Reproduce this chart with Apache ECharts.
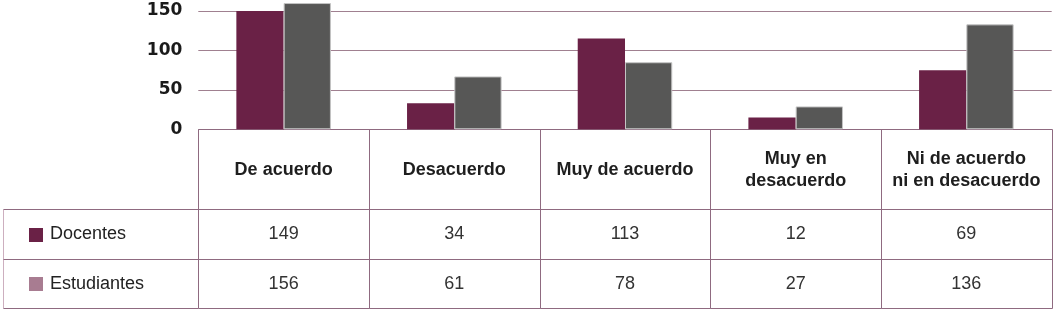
<!DOCTYPE html>
<html><head><meta charset="utf-8">
<script src="https://cdn.jsdelivr.net/npm/echarts@6.0.0/dist/echarts.min.js"></script>
<style>html,body{margin:0;padding:0;background:#fff}#c{width:1053px;height:310px}</style>
</head><body><div id="c"></div>
<script>
// ---- data ----
const categories = ['De acuerdo', 'Desacuerdo', 'Muy de acuerdo', 'Muy en\ndesacuerdo', 'Ni de acuerdo\nni en desacuerdo'];
const seriesNames = ['Docentes', 'Estudiantes'];
// bar heights as drawn in the chart
const docentesBars = [150, 33, 115, 15, 75];
const estudiantesBars = [160, 67, 85, 29, 133];
// values printed in the data table
const docentesTable = [149, 34, 113, 12, 69];
const estudiantesTable = [156, 61, 78, 27, 136];
const yTickLabels = ['0', '50', '100', '150', '200'];

// ---- style / layout ----
const C_DOC = '#6A2146', C_EST = '#575756', C_EST_KEY = '#A87C91';
const C_LINE = '#8F6A80', C_LINE_LIGHT = '#CDAFBF', C_GRID = '#A08090';
const FONT = '"Liberation Sans", Arial, sans-serif';
const rowEdges = [0, 80, 130, 179]; // table row boundaries (px, inside table grid)
const tableTop = 129.3, tableLeftX = 3;

const chart = echarts.init(document.getElementById('c'), null, {renderer: 'canvas'});
const px = (v) => Math.round(v) + 0.5;

function renderCol(params, api) {
  const i = api.value(0);
  const c = api.coord([i, 0]);
  const w = api.size([1, 0])[0];
  const x0 = px(c[0] - w / 2), x1 = px(c[0] + w / 2);
  const ys = rowEdges.map(v => px(api.coord([i, v])[1]));
  const ln = (x1_, y1_, x2_, y2_, col) => ({type: 'line', shape: {x1: x1_, y1: y1_, x2: x2_, y2: y2_}, style: {stroke: col || C_LINE, lineWidth: 1}});
  const txt = (s, y, bold) => ({type: 'text', style: {text: s, x: c[0], y: y, align: 'center', verticalAlign: 'middle',
    fontFamily: FONT, fontSize: 18, fontWeight: bold ? 'bold' : 'normal', lineHeight: 22, fill: bold ? '#1e1e1e' : '#333'}});
  return {type: 'group', children: [
    ln(x0, ys[0], x0, ys[3]), ln(x1, ys[0], x1, ys[3]),
    ln(x0, ys[0], x1, ys[0]), ln(x0, ys[1], x1, ys[1]), ln(x0, ys[2], x1, ys[2]), ln(x0, ys[3], x1, ys[3]),
    txt(categories[i], (ys[0] + ys[1]) / 2 + 1, true),
    txt(String(docentesTable[i]), (ys[1] + ys[2]) / 2, false),
    txt(String(estudiantesTable[i]), (ys[2] + ys[3]) / 2, false)
  ]};
}

function renderKeys(params, api) {
  const c = api.coord([0, 0]);
  const w = api.size([1, 0])[0];
  const gx = px(c[0] - w / 2);
  const lx = px(tableLeftX);
  const ys = rowEdges.map(v => px(api.coord([0, v])[1]));
  const ln = (x1_, y1_, x2_, y2_, col) => ({type: 'line', shape: {x1: x1_, y1: y1_, x2: x2_, y2: y2_}, style: {stroke: col, lineWidth: 1}});
  const key = (name, col, yc) => [
    {type: 'rect', shape: {x: 29, y: Math.round(yc - 7), width: 14, height: 14}, style: {fill: col}},
    {type: 'text', style: {text: name, x: 50, y: yc, align: 'left', verticalAlign: 'middle', fontFamily: FONT, fontSize: 18, fill: '#222'}}
  ];
  return {type: 'group', children: [
    ln(lx, ys[1], lx, ys[3], C_LINE_LIGHT),
    ln(lx, ys[1], gx, ys[1], C_LINE), ln(lx, ys[2], gx, ys[2], C_LINE), ln(lx, ys[3], gx, ys[3], C_LINE),
    ...key(seriesNames[0], C_DOC, (ys[1] + ys[2]) / 2),
    ...key(seriesNames[1], C_EST_KEY, (ys[2] + ys[3]) / 2)
  ]};
}

const plotPxPerUnit = 0.789;
const yMax = Number(yTickLabels[yTickLabels.length - 1]);
const plotTop = tableTop - yMax * plotPxPerUnit;

chart.setOption({
  animation: false,
  grid: [
    {left: 198.3, right: 1.3, top: plotTop, height: tableTop - plotTop, outerBoundsMode: 'none', containLabel: false},
    {left: 198.3, right: 1.3, top: tableTop, height: rowEdges[3], outerBoundsMode: 'none', containLabel: false}
  ],
  xAxis: [
    {type: 'category', data: categories, gridIndex: 0, axisLine: {show: false}, axisTick: {show: false}, axisLabel: {show: false}},
    {type: 'category', data: categories, gridIndex: 1, show: false}
  ],
  yAxis: [
    {type: 'value', gridIndex: 0, min: 0, max: yMax, interval: 50,
      axisLine: {show: false}, axisTick: {show: false},
      splitLine: {lineStyle: {color: C_GRID, width: 1}},
      axisLabel: {margin: 16, fontFamily: '"DejaVu Sans", Verdana, sans-serif', fontWeight: 'bold', fontSize: 17, color: '#1a1a1a',
        formatter: (v) => yTickLabels[yTickLabels.indexOf(String(v))] || ''}},
    {type: 'value', gridIndex: 1, min: 0, max: rowEdges[3], inverse: true, show: false}
  ],
  series: [
    {name: seriesNames[0], type: 'bar', data: docentesBars, barGap: '0%', barCategoryGap: '44.6%',
      itemStyle: {color: C_DOC}},
    {name: seriesNames[1], type: 'bar', data: estudiantesBars, barGap: '0%', barCategoryGap: '44.6%',
      itemStyle: {color: C_EST, borderColor: '#C4C4C4', borderWidth: 1}},
    {type: 'custom', xAxisIndex: 1, yAxisIndex: 1, renderItem: renderCol, silent: true,
      data: categories.map((c, i) => [i, 0]), encode: {x: 0, y: 1}, clip: false},
    {type: 'custom', xAxisIndex: 1, yAxisIndex: 1, renderItem: renderKeys, silent: true,
      data: [[0, 0]], encode: {x: 0, y: 1}, clip: false}
  ]
});
</script>
</body></html>
